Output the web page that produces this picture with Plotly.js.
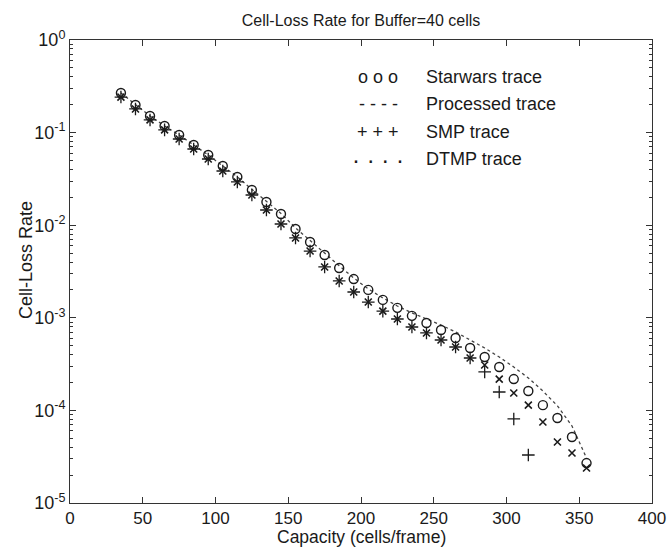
<!DOCTYPE html>
<html>
<head>
<meta charset="utf-8">
<script src="https://cdn.plot.ly/plotly-3.0.1.min.js"></script>
<style>html,body{margin:0;padding:0;background:#fff;}#chart{width:672px;height:555px;}</style>
</head>
<body>
<div id="chart"></div>
<script>
// Capacity values (cells/frame)
const capacity = [35,45,55,65,75,85,95,105,115,125,135,145,155,165,175,185,195,205,215,225,235,245,255,265,275,285,295,305,315,325,335,345,355];
// Starwars trace (circles)
const starwars = [0.268,0.199,0.151,0.118,0.0942,0.0735,0.0573,0.0436,0.0332,0.0240,0.0178,0.0132,0.0091,0.00659,0.00477,0.00345,0.00262,0.00200,0.00156,0.00128,0.00105,0.000879,0.000738,0.000605,0.000472,0.000377,0.000294,0.000218,0.000162,0.000114,0.0000828,0.0000516,0.0000270];
// Processed trace (line)
const processed = [0.268,0.199,0.151,0.118,0.0942,0.0735,0.0573,0.0436,0.0332,0.0244,0.0181,0.0134,0.00935,0.00680,0.00500,0.00365,0.00269,0.00205,0.00164,0.00134,0.00113,0.000971,0.000836,0.000703,0.000576,0.000472,0.000377,0.000294,0.000224,0.000162,0.000112,0.0000679,0.0000306];
// SMP trace (+)
const smpCapacity = [35,45,55,65,75,85,95,105,115,125,135,145,155,165,175,185,195,205,215,225,235,245,255,265,275,285,295,305,315];
const smp = [0.242,0.180,0.137,0.107,0.0853,0.0665,0.0519,0.0385,0.0293,0.0212,0.0146,0.0103,0.00728,0.00526,0.00354,0.00250,0.00190,0.00148,0.00118,0.000970,0.000796,0.000686,0.000576,0.000484,0.000368,0.000260,0.000158,0.0000808,0.0000330];
// DTMP trace (x)
const dtmp = [0.242,0.180,0.137,0.107,0.0853,0.0665,0.0519,0.0385,0.0293,0.0212,0.0146,0.0103,0.00728,0.00526,0.00354,0.00250,0.00190,0.00148,0.00118,0.000970,0.000796,0.000686,0.000576,0.000484,0.000368,0.000309,0.000218,0.000154,0.000114,0.0000750,0.0000456,0.0000347,0.0000239];

const xTicks = [0,50,100,150,200,250,300,350,400];
const yTickVals = [1e-5,1e-4,1e-3,1e-2,1e-1,1];
const yTickText = ['10<sup>-5</sup>','10<sup>-4</sup>','10<sup>-3</sup>','10<sup>-2</sup>','10<sup>-1</sup>','10<sup>0</sup>'];
const legendSymbols = ['o o o','- - - -','+ + +','\u00b7 \u00b7 \u00b7 \u00b7'];
const legendLabels = ['Starwars trace','Processed trace','SMP trace','DTMP trace'];

const ink = '#1a1a1a';
const FONT = 'Liberation Sans, Arial, Helvetica, sans-serif';

const minorVals = [];
for (let e = -5; e < 0; e++) for (let m = 2; m <= 9; m++) minorVals.push(m * Math.pow(10, e));

const traces = [
  {x: capacity, y: processed, mode: 'lines', line: {color: '#444', width: 1.3, dash: 'dot'}, showlegend: false},
  {x: capacity, y: starwars, mode: 'markers', marker: {symbol: 'circle-open', size: 9, color: ink, line: {width: 1.4, color: ink}}, showlegend: false},
  {x: smpCapacity, y: smp, mode: 'markers', marker: {symbol: 'cross-thin-open', size: 9, color: ink, line: {width: 1.3, color: ink}}, showlegend: false},
  {x: capacity, y: dtmp, mode: 'markers', marker: {symbol: 'x-thin-open', size: 7, color: ink, line: {width: 1.6, color: ink}}, showlegend: false}
];

const annotations = [];
const rowsY = [77, 104, 132, 159];
for (let i = 0; i < legendLabels.length; i++) {
  annotations.push({xref: 'paper', yref: 'paper', x: (378 - 70) / 582, y: (503 - rowsY[i]) / 463,
    text: legendSymbols[i], showarrow: false, xanchor: 'center', yanchor: 'middle',
    font: {family: FONT, size: i === 3 ? 24 : 18, color: ink}});
  annotations.push({xref: 'paper', yref: 'paper', x: (424 - 70) / 582, y: (503 - rowsY[i]) / 463,
    text: legendLabels[i], showarrow: false, xanchor: 'left', yanchor: 'middle',
    font: {family: FONT, size: 18, color: ink}});
}
annotations.push({xref: 'paper', yref: 'paper', x: -44 / 582, y: (503 - 260) / 463,
  text: 'Cell-Loss Rate', textangle: -90, showarrow: false, xanchor: 'center', yanchor: 'middle',
  font: {family: FONT, size: 18, color: ink}});
annotations.push({xref: 'paper', yref: 'paper', x: 0.5, y: (503 - 537) / 463,
  text: 'Capacity (cells/frame)', showarrow: false, xanchor: 'center', yanchor: 'middle',
  font: {family: FONT, size: 17.5, color: ink}});

const layout = {
  width: 672, height: 555,
  margin: {l: 70, r: 20, t: 40, b: 52},
  paper_bgcolor: '#fff', plot_bgcolor: '#fff',
  font: {family: FONT, size: 18, color: ink},
  title: {text: 'Cell-Loss Rate for Buffer=40 cells', font: {family: FONT, size: 16, color: ink},
    x: 0.5, xref: 'paper', xanchor: 'center', y: 1 - 20 / 555, yref: 'container', yanchor: 'middle'},
  xaxis: {range: [0, 400], tickvals: xTicks, ticks: 'inside', ticklen: 6, tickcolor: '#333',
    showline: true, linecolor: '#333', linewidth: 1, mirror: 'ticks', showgrid: false, zeroline: false,
    tickfont: {family: FONT, size: 17, color: ink}},
  yaxis: {type: 'log', range: [-5, 0], tickvals: yTickVals, ticktext: yTickText, ticks: 'inside', ticklen: 6,
    tickcolor: '#333', showline: true, linecolor: '#333', linewidth: 1, mirror: 'ticks', showgrid: false,
    zeroline: false, tickfont: {family: FONT, size: 18, color: ink},
    minor: {tickvals: minorVals, ticks: 'inside', ticklen: 3, tickcolor: '#333', showgrid: false}},
  annotations: annotations,
  showlegend: false
};

Plotly.newPlot('chart', traces, layout, {displayModeBar: false, staticPlot: true});
</script>
</body>
</html>
